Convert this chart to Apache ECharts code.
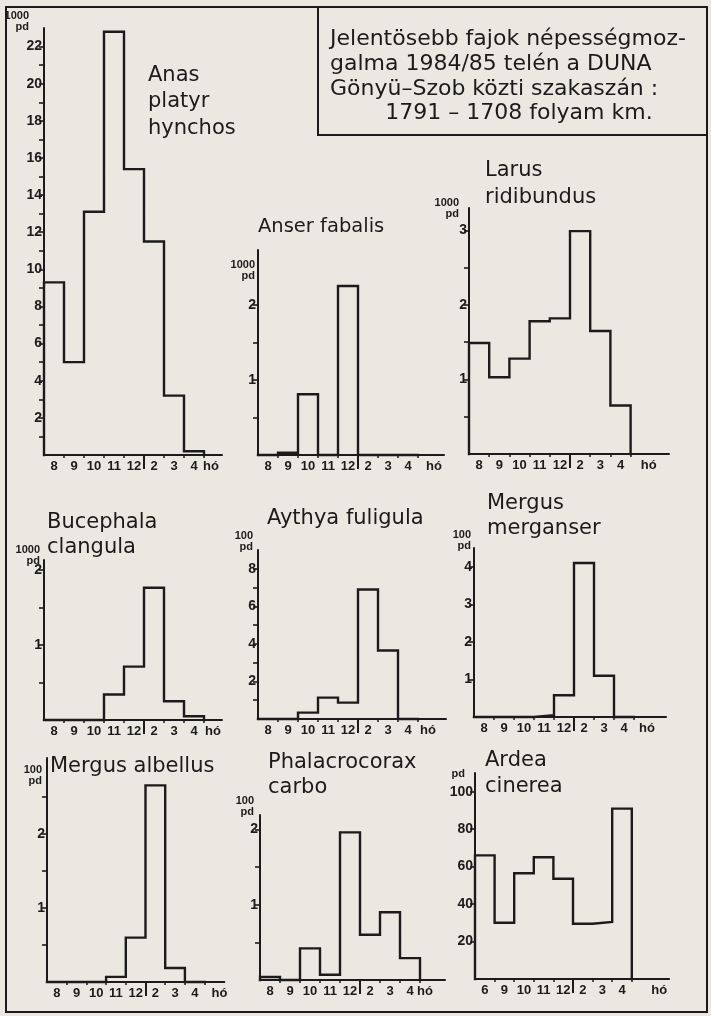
<!DOCTYPE html>
<html><head><meta charset="utf-8">
<script src="https://cdn.jsdelivr.net/npm/echarts@6/dist/echarts.min.js"></script>
<style>html,body{margin:0;padding:0;background:#ebe8e1}#c{width:711px;height:1016px}</style>
</head><body><div id="c"></div>
<script>
// ---- tick / category labels ----
const monthLabels = ['8','9','10','11','12','2','3','4','hó'];
const monthLabelsArdea = ['6','9','10','11','12','2','3','4','hó'];

// ---- series values (one value per month bin: 8,9,10,11,12,2,3,4) ----
const anasPlatyrhynchos = [9.3, 5.0, 13.1, 22.8, 15.4, 11.5, 3.2, 0.2];
const anserFabalis      = [0, 0.03, 0.81, 0, 2.25, 0, 0, 0];
const larusRidibundus   = [1.49, 1.03, 1.28, 1.78, 1.82, 2.99, 1.65, 0.65];
const bucephalaClangula = [0, 0, 0, 0.34, 0.71, 1.76, 0.25, 0.05];
const aythyaFuligula    = [0, 0, 0.34, 1.14, 0.87, 6.9, 3.65, 0];
const mergusMerganser   = [0, 0, 0, 0.05, 0.58, 4.1, 1.1, 0];
const mergusAlbellus    = [0, 0, 0, 0.07, 0.6, 2.66, 0.19, 0];
const phalacrocoraxCarbo= [0.04, 0, 0.42, 0.07, 1.96, 0.6, 0.9, 0.29];
const ardeaCinerea      = [66, 30, 56.5, 65, 53.5, 29.5, 30.5, 91];

// ---- y tick labels / ticks ----
const anasYLabels = [2,4,6,8,10,12,14,16,18,20,22];
const anasYTicks  = [1,2,3,4,5,6,7,8,9,10,11,12,13,14,15,16,17,18,19,20,21,22];
const anserYLabels = [1,2];            const anserYTicks = [0.5,1,1.5,2];
const larusYLabels = [1,2,3];          const larusYTicks = [0.5,1,1.5,2,2.5,3];
const bucephalaYLabels = [1,2];        const bucephalaYTicks = [0.5,1,1.5,2];
const aythyaYLabels = [2,4,6,8];       const aythyaYTicks = [1,2,3,4,5,6,7,8];
const merganserYLabels = [1,2,3,4];    const merganserYTicks = [1,2,3,4];
const albellusYLabels = [1,2];         const albellusYTicks = [0.5,1,1.5,2,2.5];
const carboYLabels = [1,2];            const carboYTicks = [0.5,1,1.5,2];
const ardeaYLabels = [20,40,60,80,100]; const ardeaYTicks = [20,40,60,80,100];

const INK = '#1b1b1b';
const FONT = 'DejaVu Sans';
const NUMFONT = 'Liberation Sans';

const panels = [
  {title:'Anas\nplatyr\nhynchos', vals:anasPlatyrhynchos, xl:monthLabels, unit:'1000\npd', yl:anasYLabels, yt:anasYTicks, yMax:23,
   left:44, top:28, base:455, binW:20, xEnd:8.9, ho:8.35, tx:148, ty:62, lh:26.5, fs:21, ug:7, up:15},
  {title:'Anser fabalis', vals:anserFabalis, xl:monthLabels, unit:'1000\npd', yl:anserYLabels, yt:anserYTicks, yMax:2.73,
   left:258, top:250, base:455, binW:20, xEnd:9.3, ho:8.8, tx:258, ty:214, lh:26, fs:19.5, ug:-20, up:3},
  {title:'Larus\nridibundus', vals:larusRidibundus, xl:monthLabels, unit:'1000\npd', yl:larusYLabels, yt:larusYTicks, yMax:3.3,
   left:469, top:208, base:454, binW:20.2, xEnd:9.9, ho:8.9, tx:485, ty:157, lh:27, fs:21, ug:0, up:10},
  {title:'Bucephala\nclangula', vals:bucephalaClangula, xl:monthLabels, unit:'1000\npd', yl:bucephalaYLabels, yt:bucephalaYTicks, yMax:2.13,
   left:44, top:560, base:720, binW:20, xEnd:8.9, ho:8.45, tx:47, ty:510, lh:25, fs:21, ug:5, up:4},
  {title:'Aythya fuligula', vals:aythyaFuligula, xl:monthLabels, unit:'100\npd', yl:aythyaYLabels, yt:aythyaYTicks, yMax:9,
   left:258, top:550, base:719, binW:20, xEnd:9.4, ho:8.5, tx:267, ty:506, lh:26, fs:21, ug:9, up:5},
  {title:'Mergus\nmerganser', vals:mergusMerganser, xl:monthLabels, unit:'100\npd', yl:merganserYLabels, yt:merganserYTicks, yMax:4.5,
   left:474, top:548, base:717, binW:20, xEnd:9.6, ho:8.65, tx:487, ty:491, lh:25, fs:21, ug:8, up:3},
  {title:'Mergus albellus', vals:mergusAlbellus, xl:monthLabels, unit:'100\npd', yl:albellusYLabels, yt:albellusYTicks, yMax:3.03,
   left:47, top:758, base:982, binW:19.7, xEnd:9.0, ho:8.75, tx:50, ty:754, lh:26, fs:21, ug:-17, up:5},
  {title:'Phalacrocorax\ncarbo', vals:phalacrocoraxCarbo, xl:monthLabels, unit:'100\npd', yl:carboYLabels, yt:carboYTicks, yMax:2.19,
   left:260, top:815, base:980, binW:20, xEnd:9.25, ho:8.25, tx:268, ty:750, lh:25, fs:21, ug:9, up:6},
  {title:'Ardea\ncinerea', vals:ardeaCinerea, xl:monthLabelsArdea, unit:'pd', yl:ardeaYLabels, yt:ardeaYTicks, yMax:110,
   left:475, top:773, base:979, binW:19.6, xEnd:9.9, ho:9.4, tx:485, ty:748, lh:26, fs:21, ug:-1, up:10}
];

function stepPoints(vals){
  const pts = [[0,0]];
  vals.forEach((v,i)=>{ pts.push([i,v]); pts.push([i+1,v]); });
  pts.push([vals.length,0]);
  return pts;
}

const grid=[], xAxis=[], yAxis=[], series=[], title=[];
panels.forEach((p,i)=>{
  grid.push({left:p.left, top:p.top, width:p.binW*p.xEnd, height:p.base-p.top, outerBoundsMode:'none', containLabel:false});
  const pos = p.vals.map((_,k)=>k+0.5).concat([p.ho]);
  xAxis.push({type:'value', gridIndex:i, min:0, max:p.xEnd, position:'bottom',
    axisLine:{show:true, onZero:false, lineStyle:{color:INK,width:2}},
    axisTick:{show:true, customValues:[5], length:14, lineStyle:{color:INK,width:2}},
    axisLabel:{show:true, customValues:pos, margin:5, fontSize:13, fontWeight:'bold', fontFamily:NUMFONT, color:INK,
      formatter:(v)=>{ const k = pos.findIndex(q=>Math.abs(q-v)<1e-6); return k>=0 ? p.xl[k] : ''; }},
    splitLine:{show:false}});
  xAxis.push({type:'value', gridIndex:i, min:0, max:p.xEnd, position:'bottom',
    axisLine:{show:false},
    axisTick:{show:true, customValues:[1,2,3,4,6,7,8], length:3, lineStyle:{color:INK,width:1.5}},
    axisLabel:{show:false}, splitLine:{show:false}});
  yAxis.push({type:'value', gridIndex:i, min:0, max:p.yMax, position:'left',
    axisLine:{show:true, onZero:false, lineStyle:{color:INK,width:2}},
    axisTick:{show:true, customValues:p.yt, length:5, lineStyle:{color:INK,width:1.6}},
    axisLabel:{show:true, customValues:p.yl, margin:2, fontSize:14, fontWeight:'bold', fontFamily:NUMFONT, color:INK},
    splitLine:{show:false},
    name:p.unit, nameLocation:'end', nameGap:p.ug, nameMoveOverlap:false,
    nameTextStyle:{align:'right', verticalAlign:'middle', padding:[0,p.up,0,0], fontSize:11, fontWeight:'bold', lineHeight:11, fontFamily:NUMFONT, color:INK}});
  series.push({type:'line', xAxisIndex:2*i, yAxisIndex:i, data:stepPoints(p.vals), showSymbol:false, symbol:'none',
    lineStyle:{color:INK, width:2.4, cap:'square', join:'miter'}, silent:true, clip:false, animation:false});
  title.push({text:p.title, left:p.tx, top:p.ty, padding:0,
    textStyle:{fontSize:p.fs, fontWeight:'normal', fontFamily:FONT, color:INK, lineHeight:p.lh}});
});

const chart = echarts.init(document.getElementById('c'), null, {renderer:'canvas'});
chart.setOption({
  backgroundColor:'#ebe8e1',
  animation:false,
  title, grid, xAxis, yAxis, series,
  graphic:[
    {type:'rect', silent:true, shape:{x:6,y:7,width:701,height:1005}, style:{fill:null, stroke:INK, lineWidth:2}},
    {type:'rect', silent:true, shape:{x:318,y:7,width:389,height:128}, style:{fill:null, stroke:INK, lineWidth:2}},
    {type:'text', silent:true, x:330, y:27, style:{text:'Jelentösebb fajok népességmoz-\ngalma 1984/85 telén a DUNA\nGönyü–Szob közti szakaszán :',
      fontSize:22, fontFamily:FONT, lineHeight:25, fill:INK, verticalAlign:'top'}},
    {type:'text', silent:true, x:519, y:101, style:{text:'1791 – 1708 folyam km.', fontSize:22, fontFamily:FONT, lineHeight:25, fill:INK, align:'center', verticalAlign:'top'}}
  ]
});
</script>
</body></html>
